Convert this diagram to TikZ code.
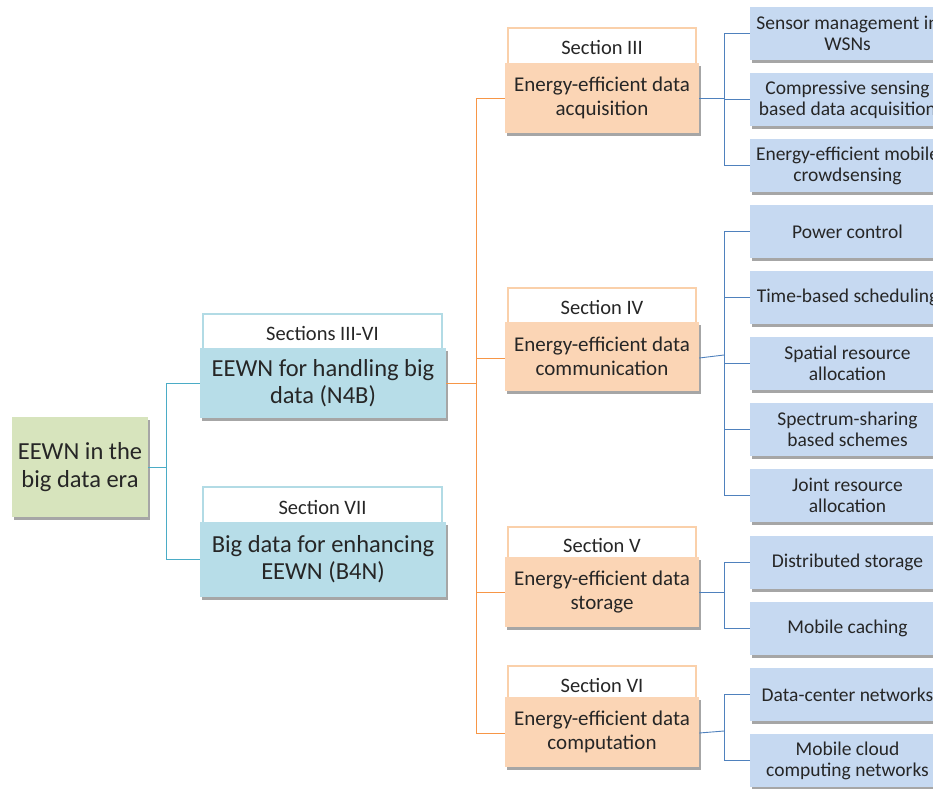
\documentclass[tikz,border=0pt]{standalone}
\usepackage{fontspec}
\setmainfont{Carlito}
\usetikzlibrary{shadows}

\definecolor{rootfill}{HTML}{D7E4BD}
\definecolor{tealfill}{HTML}{B7DDE8}
\definecolor{tealline}{HTML}{4BACC6}
\definecolor{tealtabline}{HTML}{B2DBE5}
\definecolor{orangefill}{HTML}{FBD5B5}
\definecolor{orangeline}{HTML}{F79646}
\definecolor{orangetabline}{HTML}{FAD0AA}
\definecolor{leaffill}{HTML}{C6D9F1}
\definecolor{blueline}{HTML}{4F81BD}
\definecolor{txt}{HTML}{262626}

\tikzset{
  boxshadow/.style={drop shadow={shadow xshift=1.5pt, shadow yshift=-2.5pt, fill=black, opacity=0.35}},
  rootbox/.style={rectangle, fill=rootfill, boxshadow, align=center, text=txt,
    font=\fontsize{24.5}{28}\selectfont, minimum width=136pt, minimum height=100pt, inner sep=0pt},
  tealbox/.style={rectangle, fill=tealfill, boxshadow, align=center, text=txt,
    font=\fontsize{24.5}{27}\selectfont, minimum width=246pt, inner sep=0pt},
  tealtab/.style={rectangle, draw=tealtabline, line width=2pt, fill=white, text=txt,
    font=\fontsize{20.5}{22}\selectfont, minimum width=239pt, inner sep=0pt},
  orangebox/.style={rectangle, fill=orangefill, boxshadow, align=center, text=txt,
    font=\fontsize{21}{23.5}\selectfont, minimum width=194pt, minimum height=70pt, inner sep=0pt},
  orangetab/.style={rectangle, draw=orangetabline, line width=2pt, fill=white, text=txt,
    font=\fontsize{20.5}{22}\selectfont, minimum width=188pt, inner sep=0pt},
  leafbox/.style={rectangle, fill=leaffill, boxshadow, align=center, text=txt,
    font=\fontsize{19.5}{21}\selectfont, minimum width=195pt, minimum height=53pt, inner sep=0pt},
  tealconn/.style={draw=tealline, line width=0.9pt},
  orangeconn/.style={draw=orangeline, line width=0.9pt},
  blueconn/.style={draw=blueline, line width=0.9pt},
}

\begin{document}
\begin{tikzpicture}[x=1pt, y=-1pt]
\useasboundingbox (0,0) rectangle (933,788);

% root
\node[rootbox] (root) at (80,467) {EEWN in the\\big data era};

% second level: tabs first, boxes on top
\node[tealtab, minimum height=38pt] (tabnb) at (322.5,333) {Sections III-VI};
\node[tealbox, minimum height=70pt] (nb) at (323,383) {EEWN for handling big\\data (N4B)};
\node[tealtab, minimum height=40pt] (tabbn) at (322.5,507) {Section VII};
\node[tealbox, minimum height=75pt] (bn) at (323,559.5) {Big data for enhancing\\EEWN (B4N)};

% third level
\node[orangetab, minimum height=39pt] (tabacq) at (602,47.5) {Section III};
\node[orangebox] (acq) at (602,98) {Energy-efficient data\\acquisition};
\node[orangetab, minimum height=38pt] (tabcom) at (602,307) {Section IV};
\node[orangebox, minimum height=69pt] (com) at (602,356.5) {Energy-efficient data\\communication};
\node[orangetab, minimum height=36pt] (tabsto) at (602,545) {Section V};
\node[orangebox] (sto) at (602,592) {Energy-efficient data\\storage};
\node[orangetab, minimum height=38pt] (tabcmp) at (602,685) {Section VI};
\node[orangebox] (cmp) at (602,732) {Energy-efficient data\\computation};

% leaves
\node[leafbox] (l1) at (847.5,33.5) {Sensor management in\\WSNs};
\node[leafbox] (l2) at (847.5,99.5) {Compressive sensing\\based data acquisition};
\node[leafbox] (l3) at (847.5,165.5) {Energy-efficient mobile\\crowdsensing};
\node[leafbox] (l4) at (847.5,231.5) {Power control};
\node[leafbox] (l5) at (847.5,297.5) {Time-based scheduling};
\node[leafbox] (l6) at (847.5,363.5) {Spatial resource\\allocation};
\node[leafbox] (l7) at (847.5,429.5) {Spectrum-sharing\\based schemes};
\node[leafbox] (l8) at (847.5,495.5) {Joint resource\\allocation};
\node[leafbox] (l9) at (847.5,562.5) {Distributed storage};
\node[leafbox] (l10) at (847.5,628.5) {Mobile caching};
\node[leafbox] (l11) at (847.5,694.5) {Data-center networks};
\node[leafbox] (l12) at (847.5,760.5) {Mobile cloud\\computing networks};

% junction points
\coordinate (j0) at (166,467);
\coordinate (j1) at (476,383);
\coordinate (ja) at (724,98);
\coordinate (jc) at (724,355);
\coordinate (js) at (724,592);
\coordinate (jm) at (724,731);

% connectors
\draw[tealconn] (root.east) -- (j0);
\draw[tealconn] (j0) |- (nb.west);
\draw[tealconn] (j0) |- (bn.west);

\draw[orangeconn] (nb.east) -- (j1);
\draw[orangeconn] (j1) |- (acq.west);
\draw[orangeconn] (j1) |- ([yshift=-1.5pt]com.west);
\draw[orangeconn] (j1) |- (sto.west);
\draw[orangeconn] (j1) |- ([yshift=-1pt]cmp.west);

\draw[blueconn] (acq.east) -- (ja);
\foreach \n in {l1,l2,l3} \draw[blueconn] (ja) |- (\n.west);
\draw[blueconn] ([yshift=-1.5pt]com.east) -- (jc);
\foreach \n in {l4,l5,l6,l7,l8} \draw[blueconn] (jc) |- (\n.west);
\draw[blueconn] (sto.east) -- (js);
\foreach \n in {l9,l10} \draw[blueconn] (js) |- (\n.west);
\draw[blueconn] ([yshift=-1pt]cmp.east) -- (jm);
\foreach \n in {l11,l12} \draw[blueconn] (jm) |- (\n.west);
\end{tikzpicture}
\end{document}
